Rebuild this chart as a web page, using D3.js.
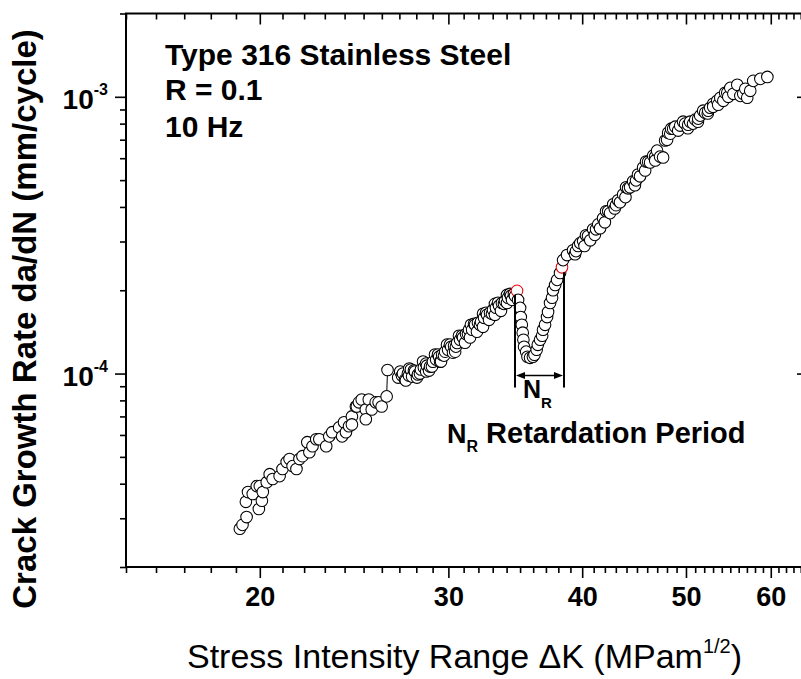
<!DOCTYPE html>
<html><head><meta charset="utf-8">
<script src="https://cdn.jsdelivr.net/npm/d3@7"></script>
<style>
html,body{margin:0;padding:0;background:#fff;overflow:hidden}
svg{display:block;font-family:"Liberation Sans",Arial,Helvetica,sans-serif}
</style></head><body>
<svg id="chart" width="801" height="679"></svg>
<script>
// Stress intensity range ΔK (MPa·m^1/2)
const dK = [
  // near-threshold region
  19.16,19.27,19.44,19.41,19.5,19.7,19.96,20.09,19.87,20.13,20.0,20.3,20.43,20.56,20.87,21.0,21.19,21.32,21.46,21.64,
  21.78,21.92,22.15,22.25,22.4,22.58,22.73,23.07,23.22,23.37,23.72,23.87,23.97,24.07,24.23,24.38,24.38,24.59,24.64,24.75,
  24.9,25.12,25.12,25.28,25.44,25.66,25.82,25.99,26.27,26.32,
  // constant-amplitude growth up to the overload
  26.93,27.05,27.15,27.33,27.38,27.5,27.58,27.68,27.75,27.92,28.04,28.1,28.28,28.41,28.46,28.6,28.65,28.78,28.84,29.02,
  29.15,29.22,29.41,29.47,29.53,29.6,29.79,29.91,29.98,30.18,30.3,30.37,30.44,30.57,30.69,30.76,30.96,31.09,31.16,31.36,
  31.43,31.49,31.57,31.77,31.9,31.97,32.18,32.32,32.32,32.39,32.6,32.74,32.81,33.02,33.16,33.16,33.23,33.45,33.59,33.66,
  33.88,34.03,34.03,34.1,34.32,34.4,34.54,34.77,
  // retardation after the overload
  34.85,35.0,35.05,35.13,35.2,35.25,35.3,35.46,35.56,35.76,
  35.98,36.1,36.27,36.36,36.54,36.7,36.77,36.93,37.09,37.17,37.33,37.49,37.57,37.74,37.9,38.14,38.3,38.39,38.72,39.22,
  // recovered growth
  39.39,39.65,39.83,40.08,40.2,40.51,40.7,40.95,41.1,41.4,41.57,41.84,42.0,42.3,42.47,42.76,42.9,43.21,43.39,43.68,
  43.9,44.15,44.34,44.63,44.8,45.1,45.3,45.6,45.8,46.09,46.29,46.59,46.8,46.99,47.29,47.6,47.81,48.12,48.34,48.43,
  48.86,49.17,49.38,49.9,50.2,50.24,50.45,51.0,51.3,51.33,51.55,52.11,52.4,52.45,52.67,53.01,53.47,53.58,53.83,54.18,
  54.64,54.76,55.0,55.36,55.83,56.2,56.55,56.8,57.04,57.41,57.78,58.67,59.56
];
// Crack growth rate da/dN (mm/cycle)
const rate = [
  2.75e-5,2.84e-5,3.03e-5,3.44e-5,3.73e-5,3.67e-5,3.24e-5,3.47e-5,3.92e-5,3.73e-5,3.92e-5,4.05e-5,4.33e-5,4.16e-5,4.26e-5,4.52e-5,4.79e-5,4.91e-5,4.63e-5,4.52e-5,
  4.91e-5,5.03e-5,5.65e-5,5.2e-5,5.46e-5,5.79e-5,5.79e-5,5.46e-5,5.93e-5,6.14e-5,6.39e-5,5.93e-5,6.67e-5,6.14e-5,6.45e-5,7.0e-5,6.55e-5,7.6e-5,7.6e-5,7.87e-5,
  8.06e-5,7.42e-5,6.84e-5,8.06e-5,7.42e-5,7.87e-5,7.87e-5,7.6e-5,8.27e-5,1.03e-4,

  9.67e-5,1.017e-4,9.84e-5,9.51e-5,9.44e-5,1.0e-4,1.043e-4,1.034e-4,9.75e-5,1.017e-4,9.67e-5,9.92e-5,1.034e-4,1.105e-4,1.051e-4,1.017e-4,1.068e-4,1.025e-4,1.06e-4,1.104e-4,
  1.171e-4,1.123e-4,1.151e-4,1.104e-4,1.105e-4,1.17e-4,1.2e-4,1.272e-4,1.22e-4,1.25e-4,1.19e-4,1.26e-4,1.2e-4,1.29e-4,1.37e-4,1.325e-4,1.35e-4,1.293e-4,1.39e-4,1.44e-4,
  1.35e-4,1.501e-4,1.44e-4,1.5e-4,1.416e-4,1.525e-4,1.54e-4,1.475e-4,1.644e-4,1.59e-4,1.63e-4,1.564e-4,1.66e-4,1.7e-4,1.63e-4,1.786e-4,1.73e-4,1.76e-4,1.685e-4,1.8e-4,
  1.83e-4,1.8e-4,1.924e-4,1.88e-4,1.91e-4,1.846e-4,1.94e-4,1.99e-4,

  1.846e-4,1.727e-4,1.6e-4,1.5e-4,1.405e-4,1.325e-4,1.25e-4,1.2e-4,1.15e-4,1.14e-4,
  1.15e-4,1.17e-4,1.22e-4,1.27e-4,1.325e-4,1.37e-4,1.44e-4,1.5e-4,1.6e-4,1.67e-4,1.8e-4,1.88e-4,2.0e-4,2.09e-4,2.18e-4,2.31e-4,2.42e-4,2.57e-4,2.68e-4,2.79e-4,

  2.70e-4,2.89e-4,2.96e-4,3.01e-4,2.89e-4,3.14e-4,3.03e-4,3.32e-4,3.17e-4,3.46e-4,3.35e-4,3.64e-4,3.52e-4,3.86e-4,3.80e-4,4.09e-4,3.95e-4,4.23e-4,4.16e-4,4.44e-4,
  4.34e-4,4.67e-4,4.71e-4,4.95e-4,4.79e-4,5.24e-4,5.16e-4,5.55e-4,5.42e-4,5.83e-4,5.79e-4,6.13e-4,5.89e-4,6.39e-4,6.08e-4,6.04e-4,6.95e-4,7.42e-4,7.36e-4,7.67e-4,
  7.8e-4,7.55e-4,7.87e-4,8.0e-4,7.7e-4,7.93e-4,8.13e-4,8.27e-4,8.13e-4,8.34e-4,8.55e-4,8.76e-4,8.7e-4,8.91e-4,9.13e-4,9.44e-4,9.67e-4,9.36e-4,9.92e-4,9.67e-4,
  1.034e-3,1.0e-3,1.077e-3,1.025e-3,1.105e-3,1.008e-3,1.025e-3,1.069e-3,9.92e-4,1.051e-3,1.142e-3,1.161e-3,1.18e-3
];
// Further readings inside the dense parts of the band
const bandDK = [
  27.21,27.56,27.86,28.22,28.59,28.96,29.34,29.72,30.1,30.49,30.89,31.29,31.7,32.11,32.53,32.95,33.38,33.81,34.25,34.62,
  39.47,40.33,41.21,42.11,43.02,43.96,44.91,45.89,46.79,48.01,48.64,49.69,50.77,51.88,53.01,54.39
];
const bandRate = [
  1.0e-4,9.83e-5,1.025e-4,1.0e-4,1.086e-4,1.06e-4,1.171e-4,1.161e-4,1.272e-4,1.251e-4,1.37e-4,1.393e-4,1.513e-4,1.5e-4,1.658e-4,1.644e-4,1.801e-4,1.786e-4,1.94e-4,1.908e-4,
  2.77e-4,3.16e-4,3.32e-4,3.86e-4,4.06e-4,4.71e-4,4.99e-4,5.84e-4,6.08e-4,7.0e-4,7.67e-4,8.13e-4,8.0e-4,8.91e-4,9.2e-4,1.034e-3
];
// Start and end of the retardation period (overload response)
const retardationDK = [34.77, 38.3];
const retardationRate = [1.99e-4, 2.42e-4];
// Jump in the near-threshold data joined by a line segment
const jumpDK = [26.27, 26.32];
const jumpRate = [8.27e-5, 1.03e-4];

const xTicks = [20, 30, 40, 50, 60];
const yTicks = [1e-4, 1e-3];
const yTickExp = ["-4", "-3"];
const infoLines = ["Type 316 Stainless Steel", "R = 0.1", "10 Hz"];

const svg = d3.select("#chart");
const plotL = 126, plotR = 808, plotT = 13.5, plotB = 567;

const x = d3.scaleLog().domain([15, 65]).range([plotL, plotR]);
const y = d3.scaleLog().domain([2e-5, 2e-3]).range([plotB, plotT]);

const xMinor = d3.range(15, 66).filter(v => !xTicks.includes(v));
const yMinor = [];
[1e-5, 1e-4, 1e-3].forEach(d => { for (let k = 2; k <= 9; k++) { const v = d * k; if (v >= 2e-5 * 0.999 && v <= 2e-3 * 1.001) yMinor.push(v); } });

function styleAxis(g) {
  g.select(".domain").remove();
  g.selectAll(".tick line").attr("stroke", "#000").attr("stroke-width", 1.6);
}

// bottom axis
svg.append("g").attr("transform", `translate(0,${plotB})`)
  .call(d3.axisBottom(x).tickValues(xMinor).tickSize(6).tickFormat(""))
  .call(styleAxis);
const bx = svg.append("g").attr("transform", `translate(0,${plotB})`)
  .call(d3.axisBottom(x).tickValues(xTicks).tickSize(11).tickPadding(9).tickFormat(d3.format("d")))
  .call(styleAxis);
bx.selectAll(".tick text").attr("font-size", 27).attr("font-weight", "bold").attr("fill", "#000")
  .attr("font-family", '"Liberation Sans",Arial,sans-serif');

// top axis (ticks inward)
svg.append("g").attr("transform", `translate(0,${plotT})`)
  .call(d3.axisTop(x).tickValues(xMinor).tickSize(-6).tickFormat(""))
  .call(styleAxis);
svg.append("g").attr("transform", `translate(0,${plotT})`)
  .call(d3.axisTop(x).tickValues(xTicks).tickSize(-11).tickFormat(""))
  .call(styleAxis);

// left axis
svg.append("g").attr("transform", `translate(${plotL},0)`)
  .call(d3.axisLeft(y).tickValues(yMinor).tickSize(6).tickFormat(""))
  .call(styleAxis);
const ly = svg.append("g").attr("transform", `translate(${plotL},0)`)
  .call(d3.axisLeft(y).tickValues(yTicks).tickSize(11).tickFormat(""))
  .call(styleAxis);
ly.selectAll(".tick").each(function(d, i) {
  const t = d3.select(this).append("text")
    .attr("x", -18).attr("y", 12).attr("text-anchor", "end")
    .attr("fill", "#000").attr("font-weight", "bold")
    .attr("font-family", '"Liberation Sans",Arial,sans-serif');
  t.append("tspan").attr("font-size", 28).text("10");
  t.append("tspan").attr("font-size", 16).attr("dy", -14).text(yTickExp[i]);
});

// right axis (ticks inward)
svg.append("g").attr("transform", `translate(${plotR},0)`)
  .call(d3.axisRight(y).tickValues(yMinor).tickSize(-6).tickFormat(""))
  .call(styleAxis);
svg.append("g").attr("transform", `translate(${plotR},0)`)
  .call(d3.axisRight(y).tickValues(yTicks).tickSize(-11).tickFormat(""))
  .call(styleAxis);

// frame
svg.append("rect").attr("x", plotL).attr("y", plotT).attr("width", plotR - plotL).attr("height", plotB - plotT)
  .attr("fill", "none").attr("stroke", "#000").attr("stroke-width", 2);

// connector across the jump
svg.append("line")
  .attr("x1", x(jumpDK[0])).attr("y1", y(jumpRate[0]))
  .attr("x2", x(jumpDK[1])).attr("y2", y(jumpRate[1]))
  .attr("stroke", "#000").attr("stroke-width", 1);

// data points, drawn in order of increasing ΔK
const pts = dK.map((v, i) => ({ k: v, r: rate[i] }))
  .concat(bandDK.map((v, i) => ({ k: v, r: bandRate[i] })));
const ordered = d3.sort(pts, d => d.k);
const isRed = p => retardationDK.some((v, j) => v === p.k && retardationRate[j] === p.r);
svg.append("g").selectAll("circle").data(ordered).join("circle")
  .attr("cx", d => x(d.k)).attr("cy", d => y(d.r)).attr("r", 5.8)
  .attr("fill", "#fff")
  .attr("stroke", d => isRed(d) ? "#e8000b" : "#000")
  .attr("stroke-width", 1.05);

// retardation period bracket
const xs = x(retardationDK[0]) - 2, xe = x(retardationDK[1]) + 2;
const yBase = y(8.9e-5), yArrow = y(9.84e-5);
const br = svg.append("g").attr("stroke", "#000").attr("stroke-width", 2);
br.append("line").attr("x1", xs).attr("x2", xs).attr("y1", y(retardationRate[0]) + 4).attr("y2", yBase);
br.append("line").attr("x1", xe).attr("x2", xe).attr("y1", y(retardationRate[1]) + 5).attr("y2", yBase);
br.append("line").attr("x1", xs + 8).attr("x2", xe - 8).attr("y1", yArrow).attr("y2", yArrow).attr("stroke-width", 1.5);
svg.append("path").attr("fill", "#000")
  .attr("d", `M${xs + 1},${yArrow} l9,-3.5 l0,7 Z M${xe - 1},${yArrow} l-9,-3.5 l0,7 Z`);

const nr = svg.append("text").attr("x", (xs + xe) / 2 - 2).attr("y", 398).attr("text-anchor", "middle")
  .attr("font-weight", "bold").attr("fill", "#000");
nr.append("tspan").attr("font-size", 25).text("N");
nr.append("tspan").attr("font-size", 15).attr("dy", 10).text("R");

const nrLabel = svg.append("text").attr("x", 447).attr("y", 443)
  .attr("font-weight", "bold").attr("fill", "#000");
nrLabel.append("tspan").attr("font-size", 27).text("N");
nrLabel.append("tspan").attr("font-size", 16).attr("dy", 9).text("R");
nrLabel.append("tspan").attr("font-size", 29).attr("dy", -9).text(" Retardation Period");

// test conditions
svg.append("g").selectAll("text").data(infoLines).join("text")
  .attr("x", 165).attr("y", (d, i) => [65, 100, 137][i])
  .attr("font-size", 30).attr("font-weight", "bold").attr("fill", "#000")
  .text(d => d);

// axis titles
const xt = svg.append("text").attr("x", 187).attr("y", 668).attr("font-size", 34).attr("fill", "#000");
xt.append("tspan").text("Stress Intensity Range ΔK (MPam");
xt.append("tspan").attr("font-size", 20).attr("dy", -15).text("1/2");
xt.append("tspan").attr("dy", 15).text(")");

svg.append("text").attr("transform", "translate(36,319) rotate(-90)")
  .attr("text-anchor", "middle").attr("font-size", 33).attr("font-weight", "bold").attr("fill", "#000")
  .text("Crack Growth Rate da/dN (mm/cycle)");
</script>
</body></html>
